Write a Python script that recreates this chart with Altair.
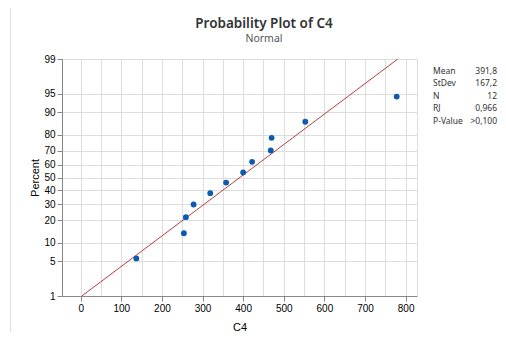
import altair as alt
import pandas as pd
from statistics import NormalDist

chart_title = "Probability Plot of C4"
chart_subtitle = "Normal"
x_title = "C4"
y_title = "Percent"

# data
c4_values = [137, 254, 259, 278, 319, 358, 400, 422, 468, 470, 553, 778]
percent_values = [5.6, 13.7, 21.8, 29.8, 37.9, 46.0, 54.0, 62.1, 70.2, 78.2, 86.3, 94.4]

fit_mean = 391.8
fit_stdev = 167.2
fit_percent_ends = [1, 99]

y_tick_percents = [1, 5, 10, 20, 30, 40, 50, 60, 70, 80, 90, 95, 99]
x_grid_values = list(range(0, 801, 50))
x_domain = [-46, 828]

stat_names = ["Mean", "StDev", "N", "RJ", "P-Value"]
stat_texts = ["391,8", "167,2", "12", "0,966", ">0,100"]

nd = NormalDist()
y_tick_z = [nd.inv_cdf(p / 100) for p in y_tick_percents]
y_domain = [y_tick_z[0], y_tick_z[-1]]

FONT = "Noto Sans"

pts = pd.DataFrame({"c4": c4_values, "pct": percent_values})
fit = pd.DataFrame({"pct": fit_percent_ends})
stats = pd.DataFrame({"name": stat_names, "val": stat_texts, "row": list(range(len(stat_names)))})
one = pd.DataFrame({"k": [0]})

x_scale = alt.Scale(domain=x_domain, nice=False, zero=False)
y_scale = alt.Scale(domain=y_domain, nice=False, zero=False)

x_axis = alt.Axis(
    values=x_grid_values,
    labelExpr="datum.value % 100 == 0 ? datum.label : ''",
    tickOpacity={"condition": {"test": "datum.value % 100 != 0", "value": 0}, "value": 1},
    title=x_title,
    titleFontWeight="normal",
    titlePadding=8,
)
y_axis = alt.Axis(
    values=y_tick_z,
    labelExpr="format(round(cumulativeNormal(datum.value) * 100), 'd')",
    title=y_title,
    titleFontWeight="normal",
    titlePadding=3,
)

points = (
    alt.Chart(pts)
    .transform_calculate(z="quantileNormal(datum.pct / 100)")
    .mark_circle(size=34, color="#0C5BB0", opacity=1)
    .encode(
        x=alt.X("c4:Q", scale=x_scale, axis=x_axis),
        y=alt.Y("z:Q", scale=y_scale, axis=y_axis),
    )
)

line = (
    alt.Chart(fit)
    .transform_calculate(z="quantileNormal(datum.pct / 100)")
    .transform_calculate(x=f"{fit_mean} + {fit_stdev} * datum.z")
    .mark_line(color="#B02A2A", strokeWidth=0.9)
    .encode(
        x=alt.X("x:Q", scale=x_scale, axis=x_axis),
        y=alt.Y("z:Q", scale=y_scale, axis=y_axis),
    )
)

stat_base = alt.Chart(stats).transform_calculate(ry="11.7 + datum.row * 12.5")
stat_names_mark = stat_base.mark_text(
    align="left", baseline="middle", font=FONT, fontSize=8.5, color="#333333"
).encode(
    x=alt.value(371),
    y=alt.Y("ry:Q", scale=None, axis=None),
    text="name:N",
)
stat_vals_mark = stat_base.mark_text(
    align="right", baseline="middle", font=FONT, fontSize=8.5, color="#333333"
).encode(
    x=alt.value(435),
    y=alt.Y("ry:Q", scale=None, axis=None),
    text="val:N",
)

title_mark = alt.Chart(one).mark_text(
    align="center", baseline="alphabetic", font=FONT, fontSize=13.5, fontWeight=600, color="#333333"
).encode(x=alt.value(202), y=alt.value(-30.8), text=alt.value(chart_title))
subtitle_mark = alt.Chart(one).mark_text(
    align="center", baseline="alphabetic", font=FONT, fontSize=10.5, color="#555555"
).encode(x=alt.value(202), y=alt.value(-17), text=alt.value(chart_subtitle))

# light outer graph frame (Minitab style), left edge
frame_v = alt.Chart(one).mark_rule(color="#e0e0e0", strokeWidth=1.2).encode(
    x=alt.value(-51.5), y=alt.value(-51), y2=alt.value(273)
)

chart = (
    alt.layer(frame_v, line, points, stat_names_mark, stat_vals_mark, title_mark, subtitle_mark)
    .properties(
        width=355,
        height=237,
        autosize=alt.AutoSizeParams(type="none"),
        padding={"left": 54, "top": 51, "right": 81, "bottom": 36},
    )
    .configure_view(stroke="#9a9a9a", strokeWidth=1)
    .configure_axis(
        labelFont=FONT,
        labelFontSize=8.5,
        labelColor="#333333",
        titleFont=FONT,
        titleFontSize=10.5,
        titleColor="#333333",
        gridColor="#e6e6e6",
        gridWidth=1,
        domainColor="#9a9a9a",
        tickColor="#9a9a9a",
        tickSize=4,
        labelPadding=2,
    )
    .configure(background="white")
)

chart.save("out.html", embed_options={"renderer": "svg", "actions": False})
